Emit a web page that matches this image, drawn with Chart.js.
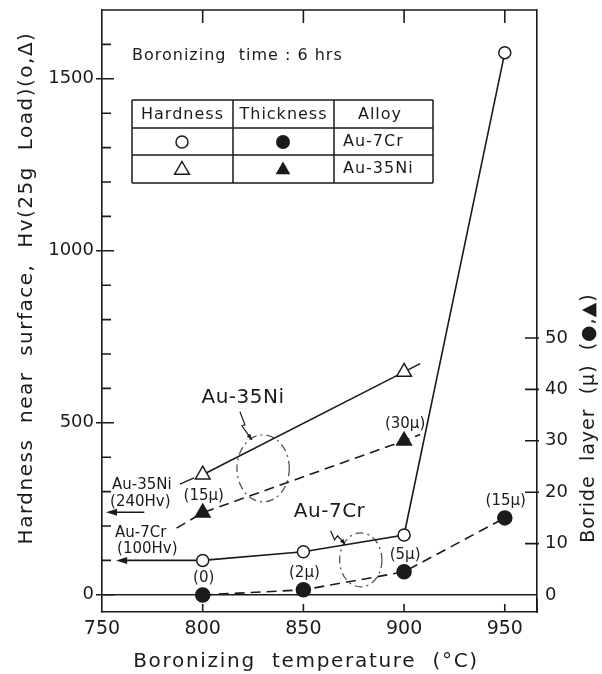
<!DOCTYPE html>
<html>
<head>
<meta charset="utf-8">
<style>
  html, body { margin: 0; padding: 0; background: #fff; }
</style>
<script src="https://cdn.jsdelivr.net/npm/chart.js@4.4.0/dist/chart.umd.min.js"></script>
</head>
<body>
<canvas id="chart" width="602" height="674"></canvas>
<script>
// data
var temps = [800, 850, 900, 950];
var cr7Hardness = [100, 125, 174, 1576];
var cr7Thickness = [0, 1, 4.5, 15];
var cr7ThickLabels = ["(0)", "(2μ)", "(5μ)", "(15μ)"];

var ni35HardTemps = [800, 900, 908];
var ni35Hardness = [349, 648, 672];
var ni35ThickTemps = [787, 800, 900, 908];
var ni35Thickness = [13, 16, 30, 31.2];
var ni35ThickLabels = ["", "(15μ)", "(30μ)", ""];

var xTicks = [750, 800, 850, 900, 950];
var hvTicks = [0, 500, 1000, 1500];
var hvMinorTicks = [100, 200, 300, 400, 600, 700, 800, 900, 1100, 1200, 1300, 1400, 1600];
var borideTicks = [0, 10, 20, 30, 40, 50];

var ink = "#1b1b1b";
var fontFamily = "'DejaVu Sans', sans-serif";

function pts(xs, ys) {
  return xs.map(function (t, i) { return { x: t, y: ys[i] }; });
}

function font(size) {
  return size + "px " + fontFamily;
}

function plainLabel(v) {
  return String(v);
}

function arrowHead(ctx, x, y, ang, len, half) {
  var c = Math.cos(ang), s = Math.sin(ang);
  ctx.beginPath();
  ctx.moveTo(x, y);
  ctx.lineTo(x - len * c - half * s, y - len * s + half * c);
  ctx.lineTo(x - len * c + half * s, y - len * s - half * c);
  ctx.closePath();
  ctx.fill();
}

function drawMarker(ctx, kind, x, y) {
  ctx.beginPath();
  if (kind === "circle" || kind === "dot") {
    ctx.arc(x, y, kind === "dot" ? 7 : 6, 0, Math.PI * 2);
  } else {
    var r = 8.5;
    ctx.moveTo(x, y - r);
    ctx.lineTo(x + r * 0.866, y + r / 2);
    ctx.lineTo(x - r * 0.866, y + r / 2);
    ctx.closePath();
  }
  if (kind === "dot" || kind === "solidTri") {
    ctx.fill();
  } else {
    ctx.fillStyle = "#fff";
    ctx.fill();
    ctx.fillStyle = ink;
    ctx.stroke();
  }
}

// dash-dot rings (temperature range, hardness range)
var rings = [
  { t0: 817, t1: 843, v0: 270, v1: 465 },
  { t0: 868, t1: 889, v0: 23, v1: 180 }
];
// zig-zag pointers from the alloy names to the rings
var zigzags = [
  { t: 818.5, v: 532, path: [[0, 0], [5, 13], [2, 14], [12, 28]] },
  { t: 863.5, v: 186, path: [[0, 0], [4, 9], [7, 5], [15, 14]] }
];

var paperPlugin = {
  id: "paper",
  beforeDatasetsDraw: function (chart) {
    var ctx = chart.ctx;
    var xs = chart.scales.x, ys = chart.scales.y;
    ctx.save();
    ctx.strokeStyle = "#555";
    ctx.lineWidth = 1.3;
    ctx.setLineDash([8, 4, 2, 4]);
    rings.forEach(function (r) {
      var x0 = xs.getPixelForValue(r.t0), x1 = xs.getPixelForValue(r.t1);
      var y0 = ys.getPixelForValue(r.v0), y1 = ys.getPixelForValue(r.v1);
      ctx.beginPath();
      ctx.ellipse((x0 + x1) / 2, (y0 + y1) / 2, Math.abs(x1 - x0) / 2, Math.abs(y1 - y0) / 2, 0, 0, Math.PI * 2);
      ctx.stroke();
    });
    ctx.setLineDash([]);

    // base hardness arrows at the left axis
    ctx.strokeStyle = ink;
    ctx.fillStyle = ink;
    ctx.lineWidth = 1.6;
    [[771, 752, 240], [800, 757, 100]].forEach(function (a) {
      var xa = xs.getPixelForValue(a[0]), xb = xs.getPixelForValue(a[1]);
      var yy = ys.getPixelForValue(a[2]);
      ctx.beginPath();
      ctx.moveTo(xa, yy);
      ctx.lineTo(xb + 6, yy);
      ctx.stroke();
      arrowHead(ctx, xb, yy, Math.PI, 11, 3.5);
    });

    // leader from the small Au-35Ni label
    ctx.lineWidth = 1.3;
    ctx.beginPath();
    ctx.moveTo(xs.getPixelForValue(788.7), ys.getPixelForValue(322));
    ctx.lineTo(xs.getPixelForValue(795.7), ys.getPixelForValue(340));
    ctx.stroke();

    // zig-zag pointers
    ctx.lineWidth = 1.2;
    zigzags.forEach(function (z) {
      var ox = xs.getPixelForValue(z.t), oy = ys.getPixelForValue(z.v);
      ctx.beginPath();
      z.path.forEach(function (p, i) {
        if (i === 0) ctx.moveTo(ox + p[0], oy + p[1]);
        else ctx.lineTo(ox + p[0], oy + p[1]);
      });
      ctx.stroke();
      var a = z.path[z.path.length - 2], b = z.path[z.path.length - 1];
      arrowHead(ctx, ox + b[0], oy + b[1], Math.atan2(b[1] - a[1], b[0] - a[0]), 6, 2.2);
    });
    ctx.restore();
  },
  afterDatasetsDraw: function (chart) {
    var ctx = chart.ctx;
    var area = chart.chartArea;
    var xs = chart.scales.x, ys = chart.scales.y, ys1 = chart.scales.y1;
    ctx.save();
    ctx.strokeStyle = ink;
    ctx.fillStyle = ink;
    ctx.lineWidth = 1.6;

    // top frame with ticks
    ctx.beginPath();
    ctx.moveTo(area.left, area.top);
    ctx.lineTo(area.right, area.top);
    xTicks.slice(1).forEach(function (t) {
      var px = xs.getPixelForValue(t);
      ctx.moveTo(px, area.top);
      ctx.lineTo(px, area.top + 13);
      // bottom ticks point up
      ctx.moveTo(px, area.bottom);
      ctx.lineTo(px, area.bottom - 8);
    });
    ctx.moveTo(area.right, area.bottom);
    ctx.lineTo(area.right, area.bottom - 14);
    // left axis ticks
    hvTicks.forEach(function (v) {
      var py = ys.getPixelForValue(v);
      ctx.moveTo(area.left - 6, py);
      ctx.lineTo(area.left + 12, py);
    });
    hvMinorTicks.forEach(function (v) {
      var py = ys.getPixelForValue(v);
      ctx.moveTo(area.left, py);
      ctx.lineTo(area.left + 9, py);
    });
    // right axis ticks
    borideTicks.slice(1).forEach(function (v) {
      var py = ys1.getPixelForValue(v);
      ctx.moveTo(area.right - 12, py);
      ctx.lineTo(area.right + 2, py);
    });
    ctx.stroke();

    ctx.textBaseline = "middle";

    // axis titles
    ctx.textAlign = "center";
    ctx.font = font(20);
    ctx.letterSpacing = "1.7px";
    ctx.fillText("Boronizing  temperature  (°C)", 306, 662);
    ctx.letterSpacing = "1.5px";
    ctx.save();
    ctx.translate(27, 288);
    ctx.rotate(-Math.PI / 2);
    ctx.fillText("Hardness  near  surface,  Hv(25g  Load)(o,Δ)", 0, 0);
    ctx.restore();
    ctx.font = font(19);
    ctx.letterSpacing = "1px";
    ctx.save();
    ctx.translate(589, 418);
    ctx.rotate(-Math.PI / 2);
    ctx.fillText("Boride  layer  (μ)  (●,▲)", 0, 0);
    ctx.restore();

    // note and legend table
    ctx.font = font(16);
    ctx.textAlign = "left";
    ctx.fillText("Boronizing  time : 6 hrs", 132, 56);

    var cols = [132, 233, 334, 433];
    var rows = [100, 128, 155, 183];
    ctx.lineWidth = 1.5;
    ctx.beginPath();
    cols.forEach(function (cx) { ctx.moveTo(cx, rows[0]); ctx.lineTo(cx, rows[3]); });
    rows.forEach(function (ry) { ctx.moveTo(cols[0], ry); ctx.lineTo(cols[3], ry); });
    ctx.stroke();
    ctx.textAlign = "center";
    ctx.fillText("Hardness", (cols[0] + cols[1]) / 2, 115);
    ctx.fillText("Thickness", (cols[1] + cols[2]) / 2, 115);
    ctx.fillText("Alloy", 380, 115);
    ctx.textAlign = "left";
    ctx.fillText("Au-7Cr", 343, 142);
    ctx.fillText("Au-35Ni", 343, 169);
    ctx.lineWidth = 1.5;
    drawMarker(ctx, "circle", 182, 142);
    drawMarker(ctx, "dot", 283, 142);
    drawMarker(ctx, "triangle", 182, 170);
    drawMarker(ctx, "solidTri", 283, 170);

    // alloy names in the plot
    ctx.letterSpacing = "0.5px";
    ctx.textAlign = "center";
    ctx.font = font(20);
    ctx.fillText("Au-35Ni", xs.getPixelForValue(820), ys.getPixelForValue(573));
    ctx.fillText("Au-7Cr", xs.getPixelForValue(863), ys.getPixelForValue(241));

    ctx.font = font(15);
    ctx.letterSpacing = "0px";
    ctx.textAlign = "left";
    ctx.fillText("Au-35Ni", xs.getPixelForValue(755), ys.getPixelForValue(320));
    ctx.fillText("(240Hv)", xs.getPixelForValue(754), ys.getPixelForValue(270));
    ctx.fillText("Au-7Cr", xs.getPixelForValue(756.5), ys.getPixelForValue(180));
    ctx.fillText("(100Hv)", xs.getPixelForValue(757.5), ys.getPixelForValue(134));

    // thickness values above the solid markers
    ctx.textAlign = "center";
    [[temps, cr7Thickness, cr7ThickLabels], [ni35ThickTemps, ni35Thickness, ni35ThickLabels]].forEach(function (set) {
      set[0].forEach(function (t, i) {
        if (!set[2][i]) return;
        ctx.fillText(set[2][i], xs.getPixelForValue(t) + 1, ys1.getPixelForValue(set[1][i]) - 17);
      });
    });
    ctx.restore();
  }
};

var lineBase = {
  borderColor: ink,
  borderWidth: 1.6,
  pointBorderColor: ink,
  pointBorderWidth: 1.5,
  tension: 0
};

new Chart(document.getElementById("chart"), {
  type: "line",
  data: {
    datasets: [
      Object.assign({}, lineBase, {
        label: "Au-7Cr hardness",
        data: pts(temps, cr7Hardness),
        yAxisID: "y",
        pointStyle: "circle",
        pointRadius: 6,
        pointBackgroundColor: "#fff"
      }),
      Object.assign({}, lineBase, {
        label: "Au-35Ni hardness",
        data: pts(ni35HardTemps, ni35Hardness),
        yAxisID: "y",
        pointStyle: "triangle",
        pointRadius: [8.5, 8.5, 0],
        pointBackgroundColor: "#fff"
      }),
      Object.assign({}, lineBase, {
        label: "Au-7Cr thickness",
        data: pts(temps, cr7Thickness),
        yAxisID: "y1",
        borderDash: [10, 6],
        pointStyle: "circle",
        pointRadius: 7,
        pointBackgroundColor: ink
      }),
      Object.assign({}, lineBase, {
        label: "Au-35Ni thickness",
        data: pts(ni35ThickTemps, ni35Thickness),
        yAxisID: "y1",
        borderDash: [10, 6],
        pointStyle: "triangle",
        pointRadius: [0, 8.5, 8.5, 0],
        pointBackgroundColor: ink
      })
    ]
  },
  options: {
    responsive: false,
    animation: false,
    events: [],
    layout: { padding: { top: 10 } },
    plugins: {
      legend: { display: false },
      tooltip: { enabled: false }
    },
    scales: {
      x: {
        type: "linear",
        min: 750,
        max: 966,
        afterBuildTicks: function (s) {
          s.ticks = xTicks.map(function (v) { return { value: v }; });
        },
        afterFit: function (s) {
          s.height = 62;
          s.paddingLeft = 0;
          s.paddingRight = 0;
        },
        grid: { display: false, drawTicks: false },
        border: { display: true, color: ink, width: 1.6 },
        ticks: { color: ink, padding: 6, callback: plainLabel, font: { family: fontFamily, size: 19 } }
      },
      y: {
        position: "left",
        min: -50,
        max: 1700,
        afterBuildTicks: function (s) {
          s.ticks = hvTicks.map(function (v) { return { value: v }; });
        },
        afterFit: function (s) {
          s.width = 102;
          s.paddingTop = 0;
          s.paddingBottom = 0;
        },
        grid: {
          drawTicks: false,
          lineWidth: 1.6,
          color: function (c) { return c.tick && c.tick.value === 0 ? ink : "rgba(0,0,0,0)"; }
        },
        border: { display: true, color: ink, width: 1.6 },
        ticks: { color: ink, padding: 8, callback: plainLabel, font: { family: fontFamily, size: 18 } }
      },
      y1: {
        position: "right",
        min: -3.31,
        max: 113.8,
        afterBuildTicks: function (s) {
          s.ticks = borideTicks.map(function (v) { return { value: v }; });
        },
        afterFit: function (s) {
          s.width = 65;
          s.paddingTop = 0;
          s.paddingBottom = 0;
        },
        grid: { display: false, drawTicks: false },
        border: { display: true, color: ink, width: 1.6 },
        ticks: { color: ink, padding: 8, callback: plainLabel, font: { family: fontFamily, size: 18 } }
      }
    }
  },
  plugins: [paperPlugin]
});
</script>
</body>
</html>
